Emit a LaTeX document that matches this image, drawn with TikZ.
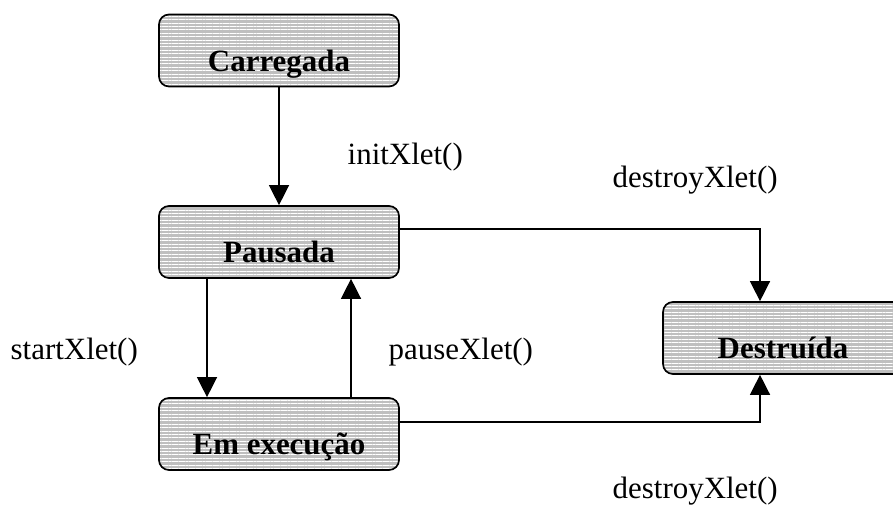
\documentclass[tikz,border=0pt]{standalone}
\usepackage{fontspec}
\setmainfont{Liberation Serif}
\usetikzlibrary{arrows.meta,patterns.meta}
\tikzset{
  state/.style={draw, line width=1.2pt, rounded corners=0.25cm,
    preaction={fill=gray!50},
    pattern={Lines[angle=0,distance=0.85mm,line width=0.25mm]}, pattern color=white,
    minimum width=6cm, minimum height=1.8cm, inner ysep=0pt,
    text height=1.425cm, text depth=0.375cm,
    font=\fontsize{22}{26}\selectfont\bfseries},
  call/.style={anchor=base west, inner sep=0pt, font=\fontsize{22}{26}\selectfont}
}
\begin{document}
\begin{tikzpicture}[>={Triangle[length=0.5cm,width=0.5cm]}, line width=1pt]
    \clip (0,0) rectangle (22.325,12.65);
    \path (6.975,11.3875) node [state](carregada){Carregada};
    \path (6.975,6.6) node [state](pausada){Pausada};
    \path (6.975,1.8) node [state](execucao){Em execução};
    \path (19.575,4.2) node [state](destruida){Destruída};
    \path (8.675,8.525) node [call](init){initXlet()};
    \path (0.25,3.65) node [call](start){startXlet()};
    \path (9.7,3.65) node [call](pause){pauseXlet()};
    \path (15.3,7.95) node [call](destroyA){destroyXlet()};
    \path (15.3,0.2) node [call](destroyB){destroyXlet()};
    \draw[->] (carregada) -- (pausada);
    \draw[->] ([xshift=-1.8cm]pausada.south) -- ([xshift=-1.8cm]execucao.north);
    \draw[->] ([xshift=1.8cm]execucao.north) -- ([xshift=1.8cm]pausada.south);
    \draw[->] ([yshift=0.325cm]pausada.east) -| ([xshift=-0.575cm]destruida.north);
    \draw[->] ([yshift=0.3cm]execucao.east) -| ([xshift=-0.575cm]destruida.south);
  \end{tikzpicture}
\end{document}
